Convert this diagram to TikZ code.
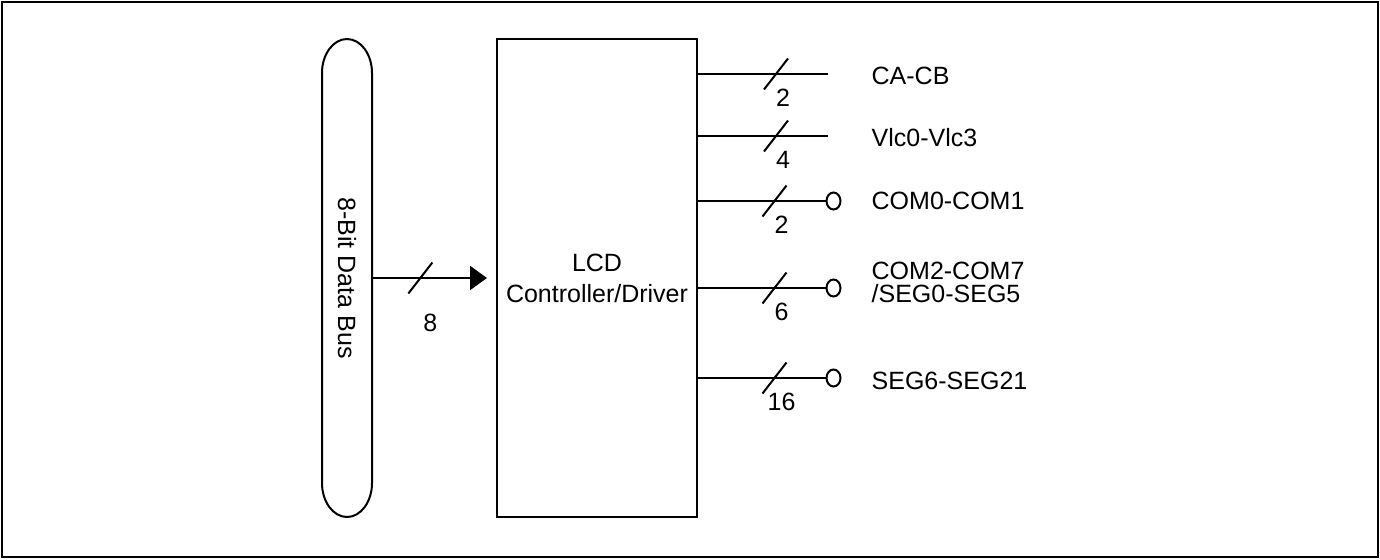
\documentclass[tikz,border=0pt]{standalone}
\usepackage{fontspec}
\setmainfont{Liberation Sans}
\usetikzlibrary{arrows.meta,positioning,shapes.geometric}

\begin{document}
\begin{tikzpicture}[x=0.5pt,y=-0.5pt,line width=1pt,font=\fontsize{12.5}{15.5}\selectfont,>={Triangle[length=8.5pt,width=12pt]}]
  \tikzset{
    blk/.style={draw,minimum width=100pt,minimum height=239pt,inner sep=0pt,align=center},
    pin/.style={draw,ellipse,minimum width=7pt,minimum height=8.5pt,inner sep=0pt},
    slashmark/.style={minimum width=11pt,minimum height=14.5pt,inner sep=0pt},
    sig/.style={anchor=west,align=left,font=\fontsize{12.5}{11.5}\selectfont},
  }
  \useasboundingbox (0,0) rectangle (1380,559);
  \draw (2,2) rectangle (1378,557);

  % data bus
  \node[minimum width=25pt,minimum height=239pt,inner sep=0pt,outer sep=0pt] (bus) at (347,278)
    {\rotatebox{-90}{8-Bit Data Bus}};
  \draw (bus.west) -- ([yshift=17pt]bus.south west)
    arc[start angle=180,end angle=360,x radius=12.5pt,y radius=17pt]
    -- ([yshift=-17pt]bus.north east)
    arc[start angle=0,end angle=180,x radius=12.5pt,y radius=17pt] -- (bus.west);

  % controller
  \node[blk] (lcd) at (597,278) {LCD\\Controller/Driver};

  \draw[->,shorten >=4.5pt] (bus.east) -- node[pos=0.39,slashmark] (s0) {}
    node[pos=0.47,yshift=-22.5pt] {8} (lcd.west);
  \draw (s0.south west) -- (s0.north east);

  % outputs without pin
  \foreach \y/\ly/\n/\nm/\txt in {74/76/2/ca/CA-CB,136/138/4/vlc/Vlc0-Vlc3} {
    \coordinate (\nm) at (828,\y);
    \draw (lcd.east |- \nm) -- node[pos=0.6,slashmark] (t\nm) {} (\nm);
    \draw (t\nm.south west) -- (t\nm.north east);
    \node at ([xshift=3.5pt,yshift=-12pt]t\nm.center) {\n};
    \node[sig] at (864,\ly) {\txt};
  }

  % outputs with pin
  \foreach \y/\ly/\n/\nm/\txt in {201/201/2/com/COM0-COM1,288/282/6/cseg/{COM2-COM7\\/SEG0-SEG5},378/381/16/seg/SEG6-SEG21} {
    \node[pin] (\nm) at (833.5,\y) {};
    \draw (lcd.east |- \nm) -- node[pos=0.6,slashmark] (t\nm) {} (\nm.west);
    \draw (t\nm.south west) -- (t\nm.north east);
    \node at ([xshift=3.5pt,yshift=-12pt]t\nm.center) {\n};
    \node[sig] at (864,\ly) {\txt};
  }
\end{tikzpicture}
\end{document}
